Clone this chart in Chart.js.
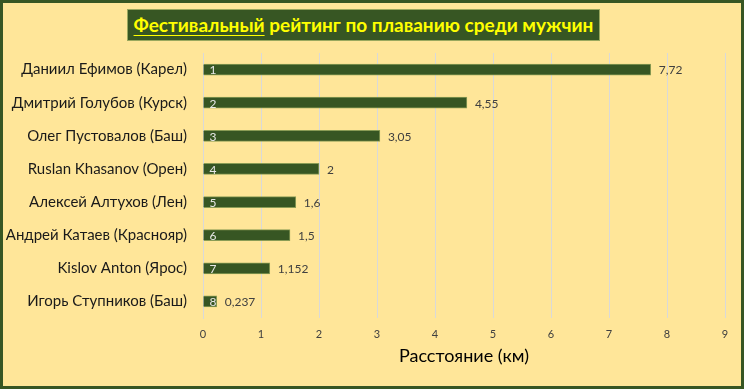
<!DOCTYPE html>
<html>
<head>
<meta charset="utf-8">
<script src="https://cdn.jsdelivr.net/npm/chart.js@4"></script>
<style>
  body { margin: 0; background: #FFE699; }
  #wrap {
    position: relative; width: 744px; height: 389px; box-sizing: border-box;
    border: 3px solid #375623; background: #FFE699; overflow: hidden;
  }
  #titolo {
    position: absolute; left: 124px; top: 6px; width: 473px; height: 32px;
    box-sizing: border-box; background: #375623; border: 1px solid #9aa85e;
    color: #FFFF00; font: bold 19px Lato, sans-serif; line-height: 29px;
    text-align: center; white-space: nowrap;
  }
  #titolo u { text-decoration-thickness: 1px; text-underline-offset: 3px; }
  canvas { position: absolute; left: -3px; top: -3px; }
</style>
</head>
<body>
<div id="wrap">
  <canvas id="grafico" width="744" height="389"></canvas>
  <div id="titolo"><u>Фестивальный</u> рейтинг по плаванию среди мужчин</div>
</div>
<script>
// Dati del grafico
const atleti = [
  'Даниил Ефимов (Карел)',
  'Дмитрий Голубов (Курск)',
  'Олег Пустовалов (Баш)',
  'Ruslan Khasanov (Орен)',
  'Алексей Алтухов (Лен)',
  'Андрей Катаев (Краснояр)',
  'Kislov Anton (Ярос)',
  'Игорь Ступников (Баш)'
];
const distanze = [7.72, 4.55, 3.05, 2, 1.6, 1.5, 1.152, 0.237];
const etichette = ['7,72', '4,55', '3,05', '2', '1,6', '1,5', '1,152', '0,237'];
const posti = [1, 2, 3, 4, 5, 6, 7, 8];
const tickX = [0, 1, 2, 3, 4, 5, 6, 7, 8, 9];

// Plugin per le etichette sulle barre
const etichetteBarre = {
  id: 'etichetteBarre',
  afterDatasetsDraw(chart) {
    const ctx = chart.ctx;
    const meta = chart.getDatasetMeta(0);
    ctx.save();
    ctx.textBaseline = 'middle';
    meta.data.forEach((bar, i) => {
      ctx.font = '12px Lato, sans-serif';
      ctx.fillStyle = '#404040';
      ctx.textAlign = 'left';
      ctx.fillText(etichette[i], bar.x + 8, bar.y + 1);
      ctx.fillStyle = '#e8e8e8';
      ctx.fillText(String(posti[i]), bar.base + 6, bar.y + 1);
    });
    ctx.restore();
  }
};

new Chart(document.getElementById('grafico'), {
  type: 'bar',
  data: {
    labels: atleti,
    datasets: [{
      data: distanze,
      backgroundColor: '#375623',
      borderColor: '#8a9c55',
      borderWidth: 1,
      barThickness: 11
    }]
  },
  options: {
    indexAxis: 'y',
    responsive: false,
    animation: false,
    layout: { padding: { top: 53, right: 19, bottom: 0, left: 0 } },
    plugins: { legend: { display: false }, tooltip: { enabled: false } },
    scales: {
      x: {
        min: 0, max: 9,
        afterBuildTicks: (s) => { s.ticks = tickX.map(v => ({ value: v })); },
        afterFit: (s) => { s.height = 71; },
        grid: { color: '#d9d9d9', drawTicks: false, lineWidth: 1 },
        border: { display: false },
        ticks: { padding: 10, color: '#404040', font: { family: 'Lato', size: 11 } },
        title: {
          display: true, text: 'Расстояние (км)', color: '#000',
          font: { family: 'Lato', size: 18 }, padding: { top: 0, bottom: 22 }
        }
      },
      y: {
        afterFit: (s) => { s.width = 203; },
        grid: { display: false },
        border: { color: '#d9d9d9' },
        ticks: { padding: 8, color: '#1a1a1a', font: { family: 'Lato', size: 15 } }
      }
    }
  },
  plugins: [etichetteBarre]
});
</script>
</body>
</html>
